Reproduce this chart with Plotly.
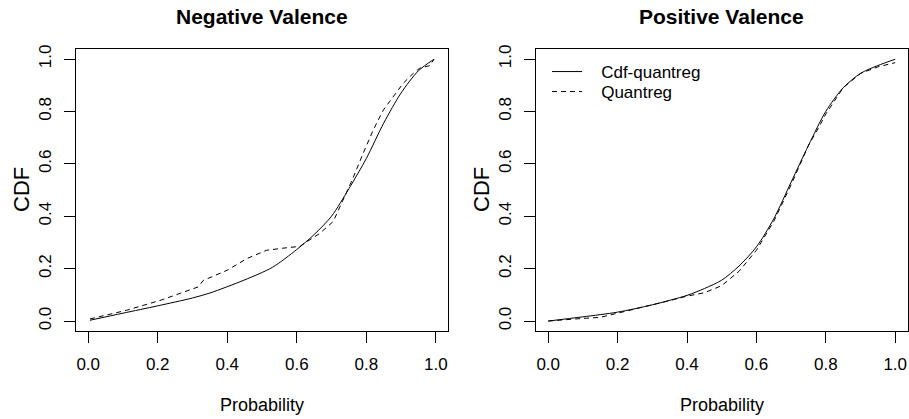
import plotly.graph_objects as go

# Negative valence panel
neg_x_cdf = [0.005, 0.1, 0.2, 0.3, 0.35, 0.45, 0.53, 0.6, 0.65, 0.7, 0.75, 0.8, 0.85, 0.9, 0.95, 0.995]
neg_y_cdf = [0.003, 0.03, 0.058, 0.088, 0.107, 0.157, 0.205, 0.273, 0.33, 0.40, 0.505, 0.62, 0.755, 0.87, 0.955, 0.999]
neg_x_qr = [0.005, 0.11, 0.21, 0.3, 0.316, 0.331, 0.4, 0.456, 0.513, 0.56, 0.609, 0.628, 0.666,
            0.705, 0.733, 0.76, 0.791, 0.82, 0.849, 0.873, 0.906, 0.935, 0.954, 0.983, 0.995]
neg_y_qr = [0.008, 0.041, 0.08, 0.12, 0.13, 0.155, 0.194, 0.238, 0.27, 0.278, 0.285, 0.302, 0.334,
            0.38, 0.46, 0.54, 0.64, 0.729, 0.805, 0.85, 0.907, 0.945, 0.965, 0.975, 0.999]

# Positive valence panel
pos_x_cdf = [0.0, 0.1, 0.2, 0.3, 0.4, 0.45, 0.5, 0.55, 0.6, 0.65, 0.7, 0.75, 0.8, 0.85, 0.9, 0.95, 1.0]
pos_y_cdf = [0.0, 0.016, 0.034, 0.062, 0.098, 0.124, 0.156, 0.21, 0.283, 0.39, 0.53, 0.67, 0.80, 0.89, 0.945, 0.975, 0.999]
pos_x_qr = [0.0, 0.05, 0.1, 0.15, 0.2, 0.25, 0.3, 0.35, 0.4, 0.45, 0.5, 0.55, 0.6, 0.65, 0.7,
            0.75, 0.78, 0.8, 0.85, 0.9, 0.95, 1.0]
pos_y_qr = [0.0, 0.006, 0.010, 0.014, 0.030, 0.045, 0.060, 0.078, 0.095, 0.108, 0.135, 0.19, 0.27,
            0.38, 0.52, 0.67, 0.74, 0.79, 0.89, 0.945, 0.97, 0.986]

titles = ["Negative Valence", "Positive Valence"]
tick_vals = [0.0, 0.2, 0.4, 0.6, 0.8, 1.0]
tick_text = ["0.0", "0.2", "0.4", "0.6", "0.8", "1.0"]

FONT = "Liberation Sans, Arial, Helvetica, sans-serif"
solid = dict(color="black", width=1, shape="spline", smoothing=0.8)
dashed = dict(color="black", width=1, dash="5px,4px")
pad = "\u00a0\u00a0\u00a0"

fig = go.Figure()
fig.add_trace(go.Scatter(x=neg_x_cdf, y=neg_y_cdf, mode="lines", line=solid,
                         showlegend=False, xaxis="x", yaxis="y"))
fig.add_trace(go.Scatter(x=neg_x_qr, y=neg_y_qr, mode="lines", line=dashed,
                         showlegend=False, xaxis="x", yaxis="y"))
fig.add_trace(go.Scatter(x=pos_x_cdf, y=pos_y_cdf, mode="lines", line=solid,
                         name=pad + "Cdf-quantreg", legend="legend", xaxis="x2", yaxis="y2"))
fig.add_trace(go.Scatter(x=pos_x_qr, y=pos_y_qr, mode="lines", line=dashed,
                         name=pad + "Quantreg", legend="legend2", xaxis="x2", yaxis="y2"))

common = dict(tickvals=tick_vals, ticktext=tick_text, ticks="outside",
              ticklen=11, tickcolor="black", showline=True, mirror=True, linecolor="black",
              linewidth=1, showgrid=False, zeroline=False, automargin=False,
              tickfont=dict(family=FONT, size=17, color="black"))
xa = dict(common, range=[-0.036, 1.036], ticklabelstandoff=7)
ya = dict(common, range=[-0.038, 1.037], tickangle=-90, ticklabelstandoff=6)

leg = dict(x=547 / 909, xanchor="left", yanchor="middle", bgcolor="rgba(0,0,0,0)",
           font=dict(family=FONT, size=17))

y_dom = [1 - 331 / 419, 1 - 49.3 / 419]
fig.update_layout(
    width=909, height=419,
    margin=dict(l=0, r=0, t=0, b=0),
    paper_bgcolor="white", plot_bgcolor="white",
    font=dict(family=FONT, color="black"),
    xaxis=dict(xa, domain=[75.7 / 909, 448.3 / 909], anchor="y"),
    yaxis=dict(ya, domain=y_dom, anchor="x"),
    xaxis2=dict(xa, domain=[535.7 / 909, 907.7 / 909], anchor="y2"),
    yaxis2=dict(ya, domain=y_dom, anchor="x2"),
    legend=dict(leg, y=1 - 72 / 419),
    legend2=dict(leg, y=1 - 92 / 419),
)

centers = [(75.7 + 448.3) / 2 / 909, (535.7 + 907.7) / 2 / 909]
for c, t in zip(centers, titles):
    fig.add_annotation(text="<b>" + t + "</b>", x=c, y=1 - 17 / 419, xref="paper", yref="paper",
                       xanchor="center", yanchor="middle", showarrow=False,
                       font=dict(family=FONT, size=21))
    fig.add_annotation(text="Probability", x=c, y=1 - 405 / 419, xref="paper", yref="paper",
                       xanchor="center", yanchor="middle", showarrow=False,
                       font=dict(family=FONT, size=18))
for px in [21, 481]:
    fig.add_annotation(text="CDF", x=px / 909, y=1 - 190 / 419, xref="paper", yref="paper",
                       xanchor="center", yanchor="middle", showarrow=False, textangle=-90,
                       font=dict(family=FONT, size=22))

fig.write_html("out.html", config={"displayModeBar": False},
               post_script="document.body.style.margin='0px';")
